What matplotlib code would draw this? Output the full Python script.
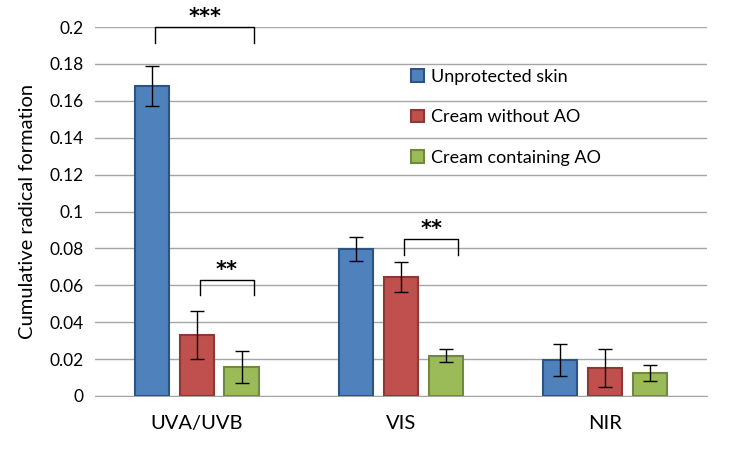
import numpy as np
import matplotlib
matplotlib.use("Agg")
import matplotlib.pyplot as plt

plt.rcParams['font.family'] = ['Lato', 'DejaVu Sans']

# data
categories = ["UVA/UVB", "VIS", "NIR"]
series = ["Unprotected skin", "Cream without AO", "Cream containing AO"]
unprotected = [0.168, 0.0797, 0.0195]
unprotected_err = [0.011, 0.0065, 0.0087]
cream_no_ao = [0.033, 0.0645, 0.0152]
cream_no_ao_err = [0.013, 0.008, 0.0103]
cream_ao = [0.0157, 0.0217, 0.0125]
cream_ao_err = [0.0087, 0.0035, 0.0043]

# significance brackets: (group, first bar, last bar, bracket height, label)
brackets = [
    (0, 0, 2, 0.200, "***"),
    (0, 1, 2, 0.063, "**"),
    (1, 1, 2, 0.085, "**"),
]

fills = ["#4F81BD", "#C0504D", "#9BBB59"]
edges = ["#2C5383", "#8C3836", "#71893F"]

fig = plt.figure(figsize=(7.36, 4.58), dpi=100)
ax = fig.add_axes([0.129, 0.1354, 0.8316, 0.8056])

x = np.arange(len(categories))
step = 0.22
width = 0.17
values = [unprotected, cream_no_ao, cream_ao]
errors = [unprotected_err, cream_no_ao_err, cream_ao_err]
for i, (vals, errs) in enumerate(zip(values, errors)):
    ax.bar(x + (i - 1) * step, vals, width, yerr=errs, color=fills[i],
           edgecolor=edges[i], linewidth=1.5, label=series[i],
           error_kw=dict(ecolor="black", elinewidth=1, capsize=5, capthick=1),
           zorder=3)

for g, a, b, h, label in brackets:
    x0 = g + (a - 1) * step + 0.015
    x1 = g + (b - 1) * step + 0.06
    ax.plot([x0, x0, x1, x1], [h - 0.0085, h, h, h - 0.0085], color="black",
            linewidth=1, clip_on=False, zorder=4)
    ax.annotate(label, ((x0 + x1) / 2, h), xytext=(0, 3),
                textcoords="offset points", ha="center", va="baseline",
                fontsize=15, fontweight="bold", family="DejaVu Sans",
                annotation_clip=False)

ax.set_xlim(-0.5, 2.5)
ax.set_ylim(0, 0.2)
ax.set_yticks(np.arange(0, 0.201, 0.02))
ax.set_yticklabels(["0", "0.02", "0.04", "0.06", "0.08", "0.1", "0.12",
                    "0.14", "0.16", "0.18", "0.2"], fontsize=12.5)
ax.set_xticks(x)
ax.set_xticklabels(categories, fontsize=14.5)
ax.tick_params(axis="both", length=0, pad=8)
ax.tick_params(axis="x", pad=14)
ax.yaxis.grid(True, color="#A6A6A6", linewidth=1, zorder=0)
ax.set_axisbelow(True)
for s in ["top", "right", "left"]:
    ax.spines[s].set_visible(False)
ax.spines["bottom"].set_color("#A6A6A6")
ax.set_ylabel("Cumulative radical formation", fontsize=14.5, labelpad=10)

ax.legend(loc="upper left", bbox_to_anchor=(0.49, 0.93), frameon=False,
          fontsize=13, handlelength=0.7, handleheight=0.7, handletextpad=0.4,
          labelspacing=1.35)

fig.savefig("out.png", dpi=100)
